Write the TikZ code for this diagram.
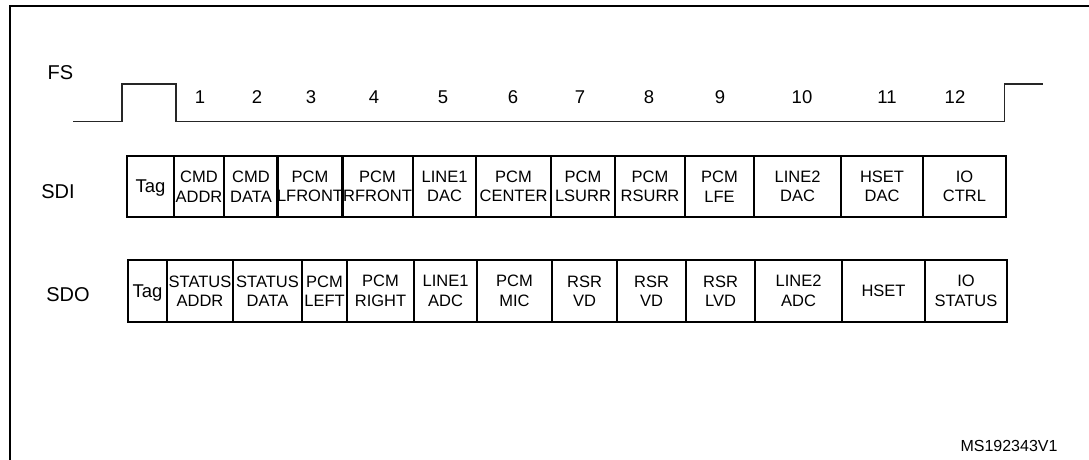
\documentclass[tikz,border=0pt]{standalone}
\usepackage{fontspec}
\setmainfont{Liberation Sans}

\begin{document}
\begin{tikzpicture}[x=1pt, y=-1pt]
        \tikzstyle{cell}   = [draw, line width=1.1pt, inner sep=0pt, align=center, font=\fontsize{16.5}{19.5}\selectfont]
        \tikzstyle{tagtxt} = [font=\fontsize{18.5}{20}\selectfont, text depth=0pt]
        \tikzstyle{signal} = [font=\fontsize{20}{22}\selectfont]
        \tikzstyle{slot}   = [font=\fontsize{18.5}{20}\selectfont]
        \useasboundingbox (0,0) rectangle (1089,459);

                % frame
                \draw [line width=2pt] (1095, 6) -- (9.8, 6) -- (9.8, 465);

                \node [signal](fs) at (60.5, 72.5) {FS};
                \node [signal](sdi) at (58, 192) {SDI};
                \node [signal](sdo) at (68, 295) {SDO};

                \draw [line width=1.3pt, black!85] (73, 121.5) -- (122, 121.5) -- (122, 84) -- (176, 84)
                        -- (176, 121.5) -- (1004.5, 121.5) -- (1004.5, 84) -- (1043, 84);

                \foreach \x [count=\i] in {200,257,311,374,443,513,580,649,720,802,887,955}
                {
                        \node [slot](n\i) at (\x, 97) {\i};
                }

                \foreach \xa/\xb/\txt [count=\i] in {127/174/Tag, 174/224/CMD\\ADDR, 224/278/CMD\\DATA,
                        278/342/PCM\\LFRONT, 342/413/PCM\\RFRONT, 413/476/LINE1\\DAC, 476/551/PCM\\CENTER,
                        551/615/PCM\\LSURR, 615/685/PCM\\RSURR, 685/754/PCM\\LFE, 754/841/LINE2\\DAC,
                        841/923/HSET\\DAC, 923/1006/IO\\CTRL}
                {
                        \ifnum \i = 1
                                \node [cell, tagtxt, minimum width={(\xb-\xa)*1pt}, minimum height=61pt](sdi\i) at ({(\xa+\xb)/2}, 186.5) {\txt};
                        \else
                                \node [cell, minimum width={(\xb-\xa)*1pt}, minimum height=61pt](sdi\i) at ({(\xa+\xb)/2}, 186.5) {\txt};
                        \fi
                }

                \foreach \xa/\xb/\txt [count=\i] in {128/167/Tag, 167/233/STATUS\\ADDR, 233/302/STATUS\\DATA,
                        302/347/PCM\\LEFT, 347/414/PCM\\RIGHT, 414/477/LINE1\\ADC, 477/552/PCM\\MIC,
                        552/617/RSR\\VD, 617/686/RSR\\VD, 686/755/RSR\\LVD, 755/842/LINE2\\ADC,
                        842/925/HSET, 925/1007/IO\\STATUS}
                {
                        \ifnum \i = 1
                                \node [cell, tagtxt, minimum width={(\xb-\xa)*1pt}, minimum height=62pt](sdo\i) at ({(\xa+\xb)/2}, 291) {\txt};
                        \else
                                \node [cell, minimum width={(\xb-\xa)*1pt}, minimum height=62pt](sdo\i) at ({(\xa+\xb)/2}, 291) {\txt};
                        \fi
                }

                \node [font=\fontsize{16}{18}\selectfont](msid) at (1009, 446) {MS192343V1};
\end{tikzpicture}
\end{document}
